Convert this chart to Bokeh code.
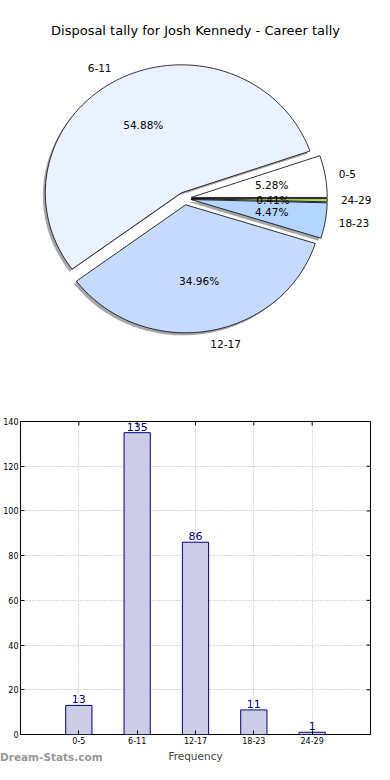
import math
from bokeh.plotting import figure
from bokeh.layouts import column
from bokeh.models import Range1d, FixedTicker, Div
from bokeh.core.properties import value
from bokeh.embed import file_html
from bokeh.resources import INLINE

# ---------------- data ----------------
categories = ["0-5", "6-11", "12-17", "18-23", "24-29"]
counts = [13, 135, 86, 11, 1]
slice_colors = ["#FFFFFF", "#EBF2FF", "#C6D9FF", "#B3D5FF", "#B5D56A"]
title_text = "Disposal tally for Josh Kennedy - Career tally"
y_ticks = [0, 20, 40, 60, 80, 100, 120, 140]
watermark = "Dream-Stats.com"

FONT = value("DejaVu Sans")

# ---------------- geometry (canvas pixels) ----------------
W = 374
PIE_H = 398
BAR_H = 366
RX, RY = 136.0, 128.0          # pixel radii (non-equal aspect like the original)
CX, CY = 184.0, 198.0          # pie centre inside the pie canvas

# ---------------- pie ----------------
pie = figure(width=W, height=PIE_H, output_backend="svg", toolbar_location=None,
             x_axis_type=None, y_axis_type=None, min_border=0,
             x_range=Range1d(-CX / RX, (W - CX) / RX),
             y_range=Range1d(-(PIE_H - CY) / RY, CY / RY))
pie.outline_line_color = None
pie.grid.visible = False
pie.frame_align = False

total = float(sum(counts))
explode = 0.05
theta = 0.0
wedges = []
for name, c, col in zip(categories, counts, slice_colors):
    frac = c / total
    t1, t2 = theta, theta + 360.0 * frac
    mid = math.radians((t1 + t2) / 2)
    ox, oy = explode * math.cos(mid), explode * math.sin(mid)
    n = max(4, int((t2 - t1) / 1.5))
    xs = [ox] + [ox + math.cos(math.radians(t1 + (t2 - t1) * i / n)) for i in range(n + 1)]
    ys = [oy] + [oy + math.sin(math.radians(t1 + (t2 - t1) * i / n)) for i in range(n + 1)]
    wedges.append((name, frac, col, xs, ys, mid, ox, oy))
    theta = t2

# shadows
pie.patches(xs=[[x - 0.018 for x in w[3]] for w in wedges],
            ys=[[y - 0.02 for y in w[4]] for w in wedges],
            fill_color="#4d4d4d", fill_alpha=0.5, line_color=None)
# wedges
pie.patches(xs=[w[3] for w in wedges], ys=[w[4] for w in wedges],
            fill_color=[w[2] for w in wedges], line_color="black", line_width=0.8)

for name, frac, col, xs, ys, mid, ox, oy in wedges:
    lx = ox + 1.1 * math.cos(mid)
    ly = oy + 1.1 * math.sin(mid)
    pie.text(x=[lx], y=[ly], text=[name], text_font=FONT, text_font_size="10.5px",
             text_align="left" if math.cos(mid) > 0 else "right",
             text_baseline="middle", text_color="black")
    px = ox + 0.6 * math.cos(mid)
    py = oy + 0.6 * math.sin(mid)
    pie.text(x=[px], y=[py], text=["%.2f%%" % (frac * 100)], text_font=FONT,
             text_font_size="10.5px", text_align="center", text_baseline="middle",
             text_color="black")

# title (placed in data space of the pie canvas)
pie.text(x=[(195 - CX) / RX], y=[(CY - 30) / RY], text=[title_text], text_font=FONT,
         text_font_size="13px", text_align="center", text_baseline="middle",
         text_color="black")

# ---------------- bar ----------------
BL, BR, BT, BB = 19, 4, 23, 26
positions = [i + 1 for i in range(len(categories))]
x_end = len(categories) + 1
y_end = 140
bar = figure(width=W, height=BAR_H, output_backend="svg", toolbar_location=None,
             x_range=Range1d(0, x_end), y_range=Range1d(0, y_end),
             min_border_left=BL, min_border_right=BR, min_border_top=BT, min_border_bottom=BB)
bar.outline_line_color = "black"
bar.outline_line_width = 1
bar.frame_align = False

bar.grid.grid_line_color = "#b0b0b0"
bar.grid.grid_line_dash = "1 2"
bar.grid.grid_line_width = 1
bar.xgrid.ticker = FixedTicker(ticks=positions)
bar.ygrid.ticker = FixedTicker(ticks=y_ticks)

bar.vbar(x=positions, top=counts, width=0.45, fill_color="#CCCCE6",
         line_color="#000080", line_width=1)
bar.text(x=positions, y=counts, text=[str(c) for c in counts], text_font=FONT,
         text_font_size="11px", text_align="center", text_baseline="bottom",
         text_color="#000080", y_offset=-2)

# mirrored inward ticks on the right and top edges
bar.ray(x=[x_end] * len(y_ticks), y=y_ticks, length=4, length_units="screen",
        angle=math.pi, line_color="black", line_width=1)
bar.ray(x=positions, y=[y_end] * len(positions), length=4, length_units="screen",
        angle=-math.pi / 2, line_color="black", line_width=1)

bar.xaxis.ticker = FixedTicker(ticks=positions)
bar.xaxis.major_label_overrides = {p: c for p, c in zip(positions, categories)}
bar.yaxis.ticker = FixedTicker(ticks=y_ticks)
for ax in (bar.xaxis[0], bar.yaxis[0]):
    ax.axis_line_color = None
    ax.major_tick_in = 4
    ax.major_tick_out = 0
    ax.minor_tick_line_color = None
    ax.major_label_text_font = "DejaVu Sans"
    ax.major_label_text_font_size = "8px"
    ax.major_label_standoff = 2
    ax.major_label_text_color = "black"
bar.xaxis.axis_label = "Frequency"
bar.xaxis.axis_label_text_font = "DejaVu Sans"
bar.xaxis.axis_label_text_font_size = "10.5px"
bar.xaxis.axis_label_text_font_style = "normal"
bar.xaxis.axis_label_standoff = 3

wm = Div(text=watermark, width=120, height=14,
         styles={"margin-top": "-14px", "margin-left": "0px", "padding": "0px",
                 "font-family": "DejaVu Sans", "font-weight": "bold",
                 "font-size": "10.5px", "color": "#979797", "line-height": "14px"})

layout = column(pie, bar, wm, spacing=0)
open("out.html", "w").write(file_html(layout, INLINE))
